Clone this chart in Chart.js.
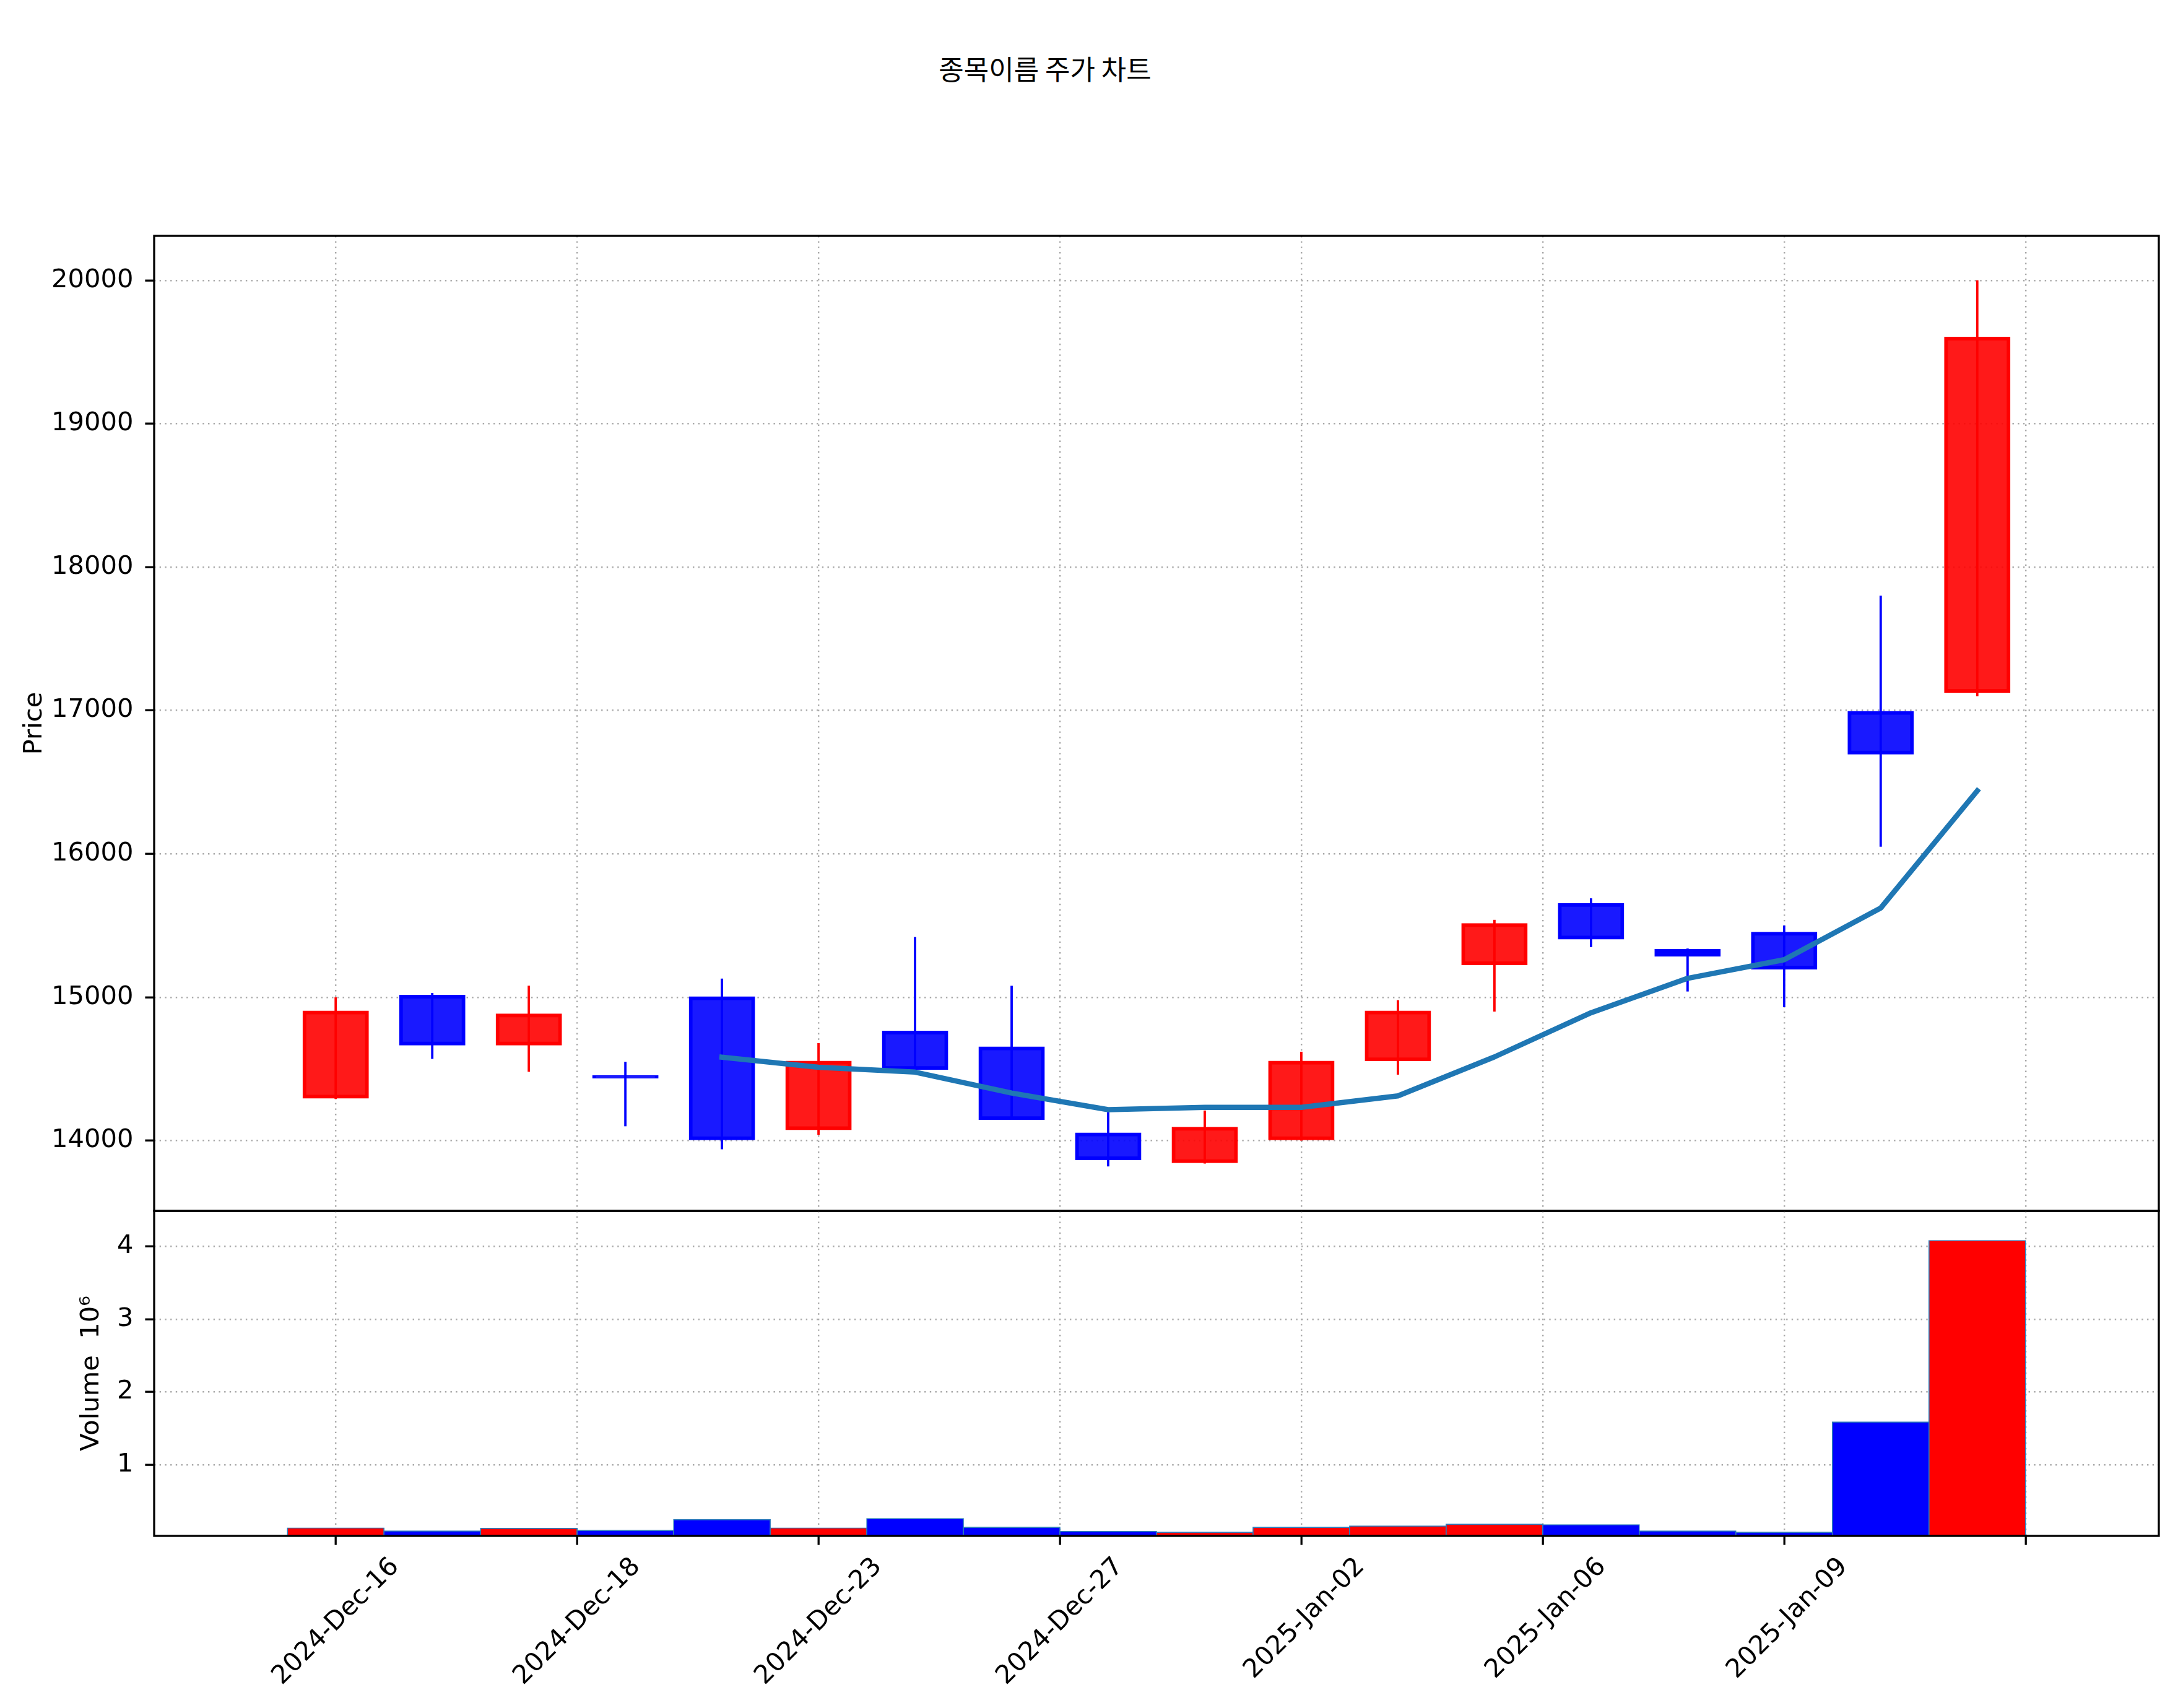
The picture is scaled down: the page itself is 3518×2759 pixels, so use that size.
<!DOCTYPE html>
<html>
<head>
<meta charset="utf-8">
<script src="https://cdn.jsdelivr.net/npm/chart.js@4.4.1/dist/chart.umd.min.js"></script>
<style>
  html, body { margin: 0; padding: 0; background: #ffffff; width: 3518px; height: 2759px; overflow: hidden; }
  canvas { position: absolute; left: 0; }
  #title { position: absolute; left: 0; top: 76px; width: 3376px; text-align: center;
           font-family: "Noto Sans CJK KR", "DejaVu Sans", sans-serif; font-size: 44px; line-height: 68px; color: #000; }
</style>
</head>
<body>
<div id="title">종목이름 주가 차트</div>
<canvas id="priceChart" width="3518" height="2000" style="top:0px"></canvas>
<canvas id="volumeChart" width="3518" height="859" style="top:1900px"></canvas>
<script>
// ---------------- data ----------------
const dates = ['2024-Dec-16','2024-Dec-17','2024-Dec-18','2024-Dec-19','2024-Dec-20','2024-Dec-23',
               '2024-Dec-24','2024-Dec-26','2024-Dec-27','2024-Dec-30','2025-Jan-02','2025-Jan-03',
               '2025-Jan-06','2025-Jan-07','2025-Jan-08','2025-Jan-09','2025-Jan-10','2025-Jan-13'];
const openPrices  = [14300, 15010, 14670, 14450, 15000, 14080, 14760, 14650, 14050, 13850, 14010, 14560, 15230, 15650, 15330, 15450, 16990, 17130];
const highPrices  = [15000, 15030, 15080, 14550, 15130, 14680, 15420, 15080, 14200, 14210, 14620, 14980, 15540, 15690, 15340, 15500, 17800, 20000];
const lowPrices   = [14290, 14570, 14480, 14100, 13940, 14040, 14500, 14150, 13820, 13840, 14000, 14460, 14900, 15350, 15040, 14930, 16050, 17100];
const closePrices = [14900, 14670, 14880, 14440, 14010, 14550, 14500, 14150, 13870, 14090, 14550, 14900, 15510, 15410, 15290, 15200, 16700, 19600];
const ma5Values   = [null, null, null, null, 14582, 14512, 14478, 14332, 14216, 14232, 14232, 14312, 14584, 14892, 15132, 15262, 15622, 16440];
const volumes     = [130000, 88000, 124000, 97000, 243000, 130000, 258000, 139000, 82000, 72000, 139000, 157000, 182000, 173000, 88000, 72000, 1586000, 4078000];

const xTickPositions = [0, 2.5, 5, 7.5, 10, 12.5, 15, 17.5];
const xTickLabels    = ['2024-Dec-16','2024-Dec-18','2024-Dec-23','2024-Dec-27','2025-Jan-02','2025-Jan-06','2025-Jan-09',''];
const priceTicks     = [14000, 15000, 16000, 17000, 18000, 19000, 20000];
const volumeTicks    = [1000000, 2000000, 3000000, 4000000];
const volumeTickLabels = ['1', '2', '3', '4'];

const xMin = -1.88, xMax = 18.88;
const priceMin = 13510, priceMax = 20310;
const volMin = 21600, volMax = 4486000;

// ---------------- styles ----------------
const FONT = { family: 'DejaVu Sans', size: 41.67 };
const GRID_COLOR = '#a9a9a9';
const GRID_W = 2.4;
const GRID_DASH = [2.4, 6.3];
const isUp = openPrices.map((o, i) => closePrices[i] >= o);
const bodyFill = isUp.map(u => u ? 'rgba(255,0,0,0.9)' : 'rgba(0,0,255,0.9)');
const edgeCol  = isUp.map(u => u ? '#ff0000' : '#0000ff');
const volFill  = isUp.map(u => u ? '#ff0000' : '#0000ff');

const framePlugin = {
  id: 'frame',
  afterDraw(chart) {
    const { ctx, chartArea: a } = chart;
    ctx.save();
    ctx.strokeStyle = '#000';
    ctx.lineWidth = 3.3;
    ctx.strokeRect(a.left, a.top, a.right - a.left, a.bottom - a.top);
    ctx.restore();
  }
};

const commonX = (showLabels) => ({
  type: 'linear', min: xMin, max: xMax, offset: false,
  afterBuildTicks: s => { s.ticks = xTickPositions.map(v => ({ value: v })); },
  ticks: showLabels ? {
    display: true, autoSkip: false, maxRotation: 45, minRotation: 45, color: '#000', font: FONT,
    padding: 11, labelOffset: 96, callback: (v, i) => xTickLabels[i]
  } : { display: false },
  grid: showLabels
    ? { offset: false, color: GRID_COLOR, lineWidth: GRID_W, drawTicks: true, tickColor: '#000', tickWidth: 3.3, tickLength: 14.6, tickBorderDash: [] }
    : { offset: false, color: GRID_COLOR, lineWidth: GRID_W, drawTicks: false },
  border: { display: false, dash: GRID_DASH },
  afterFit: s => { s.height = showLabels ? 278 : 0; }
});

// ---------------- price panel ----------------
new Chart(document.getElementById('priceChart'), {
  type: 'bar',
  data: {
    datasets: [
      {
        type: 'line', label: 'MA5',
        data: ma5Values.map((v, i) => ({ x: i, y: v })),
        borderColor: '#1f77b4', borderWidth: 8.5, pointRadius: 0, tension: 0,
        borderJoinStyle: 'round', borderCapStyle: 'square', spanGaps: false, order: 0
      },
      {
        type: 'bar', label: 'body',
        data: openPrices.map((o, i) => ({ x: i, y: [o, closePrices[i]] })),
        backgroundColor: bodyFill, borderColor: edgeCol, borderWidth: 3, borderSkipped: false,
        inflateAmount: 1.5, barPercentage: 0.667, categoryPercentage: 1, grouped: false, order: 1
      },
      {
        type: 'bar', label: 'wick',
        data: lowPrices.map((l, i) => ({ x: i, y: [l, highPrices[i]] })),
        backgroundColor: edgeCol, borderWidth: 0, barThickness: 3.8, inflateAmount: 0,
        grouped: false, order: 2
      }
    ]
  },
  options: {
    responsive: false, animation: false, devicePixelRatio: 1,
    elements: { line: { borderWidth: 8.5 } },
    layout: { padding: { left: 0, right: 31, top: 381, bottom: 44 } },
    plugins: { legend: { display: false }, tooltip: { enabled: false }, title: { display: false } },
    scales: {
      x: commonX(false),
      y: {
        type: 'linear', min: priceMin, max: priceMax,
        afterBuildTicks: s => { s.ticks = priceTicks.map(v => ({ value: v })); },
        afterFit: s => { s.width = 249; },
        ticks: { color: '#000', font: FONT, padding: 19, callback: v => String(v) },
        grid: { color: GRID_COLOR, lineWidth: GRID_W, tickColor: '#000', tickWidth: 3.3, tickLength: 14.6, tickBorderDash: [] },
        border: { display: false, dash: GRID_DASH },
        title: { display: true, text: 'Price', color: '#000', font: FONT, padding: { top: 31, bottom: 0 } }
      }
    }
  },
  plugins: [framePlugin]
});

// ---------------- volume panel ----------------
new Chart(document.getElementById('volumeChart'), {
  type: 'bar',
  data: {
    datasets: [{
      label: 'Volume',
      data: volumes.map((v, i) => ({ x: i, y: v })),
      backgroundColor: volFill, borderColor: '#2b7bba', borderWidth: 1.7, borderSkipped: false,
      inflateAmount: 0.85, barPercentage: 1, categoryPercentage: 1, grouped: false
    }]
  },
  options: {
    responsive: false, animation: false, devicePixelRatio: 1,
    layout: { padding: { left: 0, right: 31, top: 56, bottom: 0 } },
    plugins: { legend: { display: false }, tooltip: { enabled: false } },
    scales: {
      x: commonX(true),
      y: {
        type: 'linear', min: volMin, max: volMax,
        afterBuildTicks: s => { s.ticks = volumeTicks.map(v => ({ value: v })); },
        afterFit: s => { s.width = 249; },
        ticks: { color: '#000', font: FONT, padding: 19,
                 callback: v => volumeTickLabels[volumeTicks.indexOf(v)] },
        grid: { color: GRID_COLOR, lineWidth: GRID_W, tickColor: '#000', tickWidth: 3.3, tickLength: 14.6, tickBorderDash: [] },
        border: { display: false, dash: GRID_DASH },
        title: { display: true, text: 'Volume  10⁶', color: '#000', font: FONT, padding: { top: 123, bottom: 0 } }
      }
    }
  },
  plugins: [framePlugin]
});
</script>
</body>
</html>
